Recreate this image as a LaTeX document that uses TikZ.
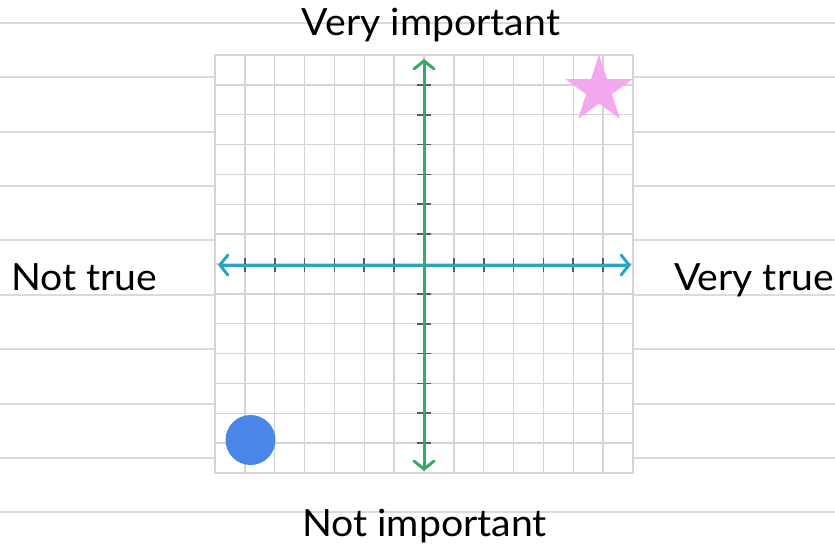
\documentclass[tikz,border=0pt]{standalone}
\usepackage{fontspec}
\setmainfont[FakeStretch=1.045]{Lato}
\usetikzlibrary{arrows.meta,shapes.geometric}
\definecolor{rulecol}{RGB}{218,218,218}
\definecolor{gridcol}{RGB}{212,212,212}
\definecolor{vgreen}{RGB}{58,170,98}
\definecolor{hteal}{RGB}{40,165,192}
\definecolor{tickcol}{RGB}{90,90,90}
\definecolor{dotblue}{RGB}{74,134,232}
\definecolor{starpink}{RGB}{243,168,240}
\tikzset{
  ruleline/.style={draw=rulecol,line width=2pt},
  gridline/.style={draw=gridcol,line width=1.4pt},
  axisarrow/.style={line width=3pt,line cap=round,
    arrows={Straight Barb[length=8pt,width=20pt,line cap=round]-Straight Barb[length=8pt,width=20pt,line cap=round]}},
  tickmark/.style={draw=tickcol,line width=1.6pt},
  axislabel/.style={font=\fontsize{37.5}{40}\selectfont,text=black,inner sep=0pt},
}
\begin{document}
\begin{tikzpicture}[x=1pt,y=-1pt]
\fill[white] (0,0) rectangle (835,544);
\useasboundingbox (0,0) rectangle (835,544);
% ruled lines
\foreach \i in {0,9} {
  \pgfmathsetmacro\yy{22.7+54.4*\i}
  \draw[ruleline] (0,\yy) -- (835,\yy);
}
\foreach \i in {1,...,8} {
  \pgfmathsetmacro\yy{22.7+54.4*\i}
  \draw[ruleline] (0,\yy) -- (215,\yy);
  \draw[ruleline] (633,\yy) -- (835,\yy);
}
% white panel and grid
\fill[white] (215,55) rectangle (633,473);
\foreach \k in {0,...,14} {
  \pgfmathsetmacro\p{215+29.857*\k}
  \pgfmathsetmacro\q{55+29.857*\k}
  \draw[gridline] (\p,55) -- (\p,473);
  \draw[gridline] (215,\q) -- (633,\q);
}
% ticks
\foreach \k in {1,...,6,8,9,...,13} {
  \pgfmathsetmacro\p{215+29.857*\k}
  \pgfmathsetmacro\q{55+29.857*\k}
  \draw[tickmark] (\p,258) -- (\p,272);
  \draw[tickmark] (417,\q) -- (431,\q);
}
% axes
\coordinate (ytop) at (424,59);
\coordinate (ybot) at (424,471);
\coordinate (xleft) at (218,265);
\coordinate (xright) at (631,265);
\draw[axisarrow,draw=hteal] (xleft) -- (xright);
\draw[axisarrow,draw=vgreen] (ybot) -- (ytop);
% markers
\node[star,star points=5,star point ratio=2.618,minimum size=71pt,inner sep=0pt,fill=starpink] (pinkstar) at (599,90) {};
\node[circle,minimum size=50pt,inner sep=0pt,fill=dotblue] (bluedot) at (250.5,440) {};
% labels
\node[axislabel,anchor=base] (top) at (431,35) {Very important};
\node[axislabel,anchor=base] (bottom) at (424.5,536) {Not important};
\node[axislabel,anchor=base west] (left) at (11,290) {Not true};
\node[axislabel,anchor=base east] (right) at (834,290) {Very true};
\end{tikzpicture}
\end{document}
